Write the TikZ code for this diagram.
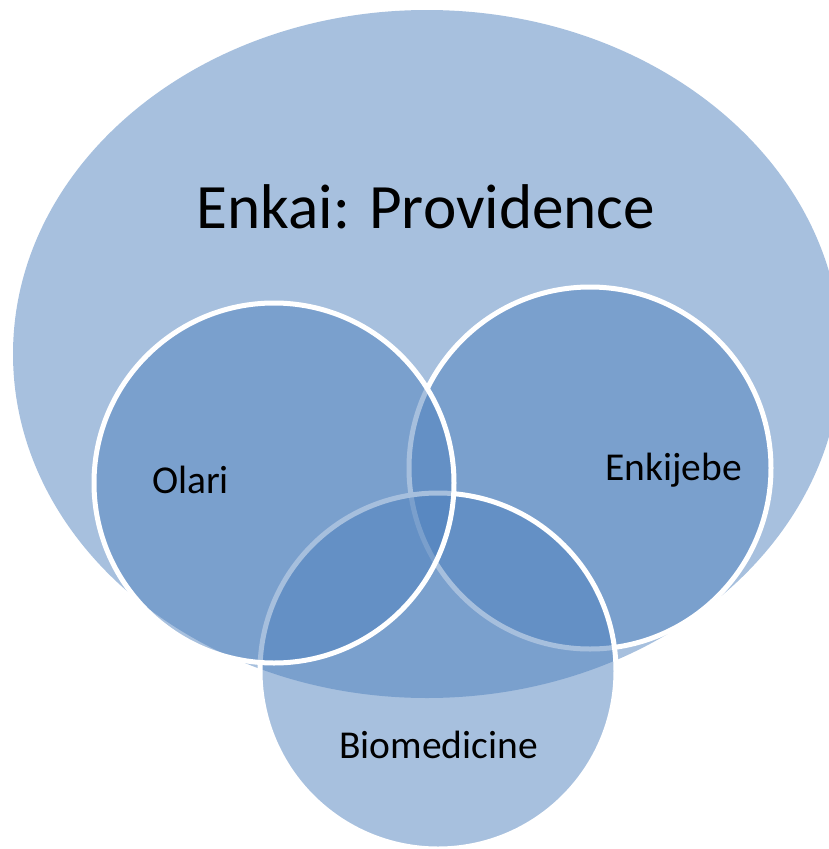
\documentclass[tikz,border=0pt]{standalone}
\usepackage{fontspec}
\setmainfont{Carlito}
\definecolor{vennblue}{HTML}{4F81BD}
\begin{document}
\begin{tikzpicture}[x=1pt, y=-1pt,
    outer/.style={fill=vennblue, fill opacity=0.5},
    set/.style={fill=vennblue, fill opacity=0.5, draw=white, line width=5pt},
    setlabel/.style={anchor=base, inner sep=0pt, font=\fontsize{39.5}{47}\selectfont}]

    \clip (0,0) rectangle (829,849);

    %% Providence
    \fill[outer] (427,354) ellipse (414pt and 344pt);
    \node[anchor=base, inner sep=0pt, font=\fontsize{63.2}{76}\selectfont] (enkai) at (426,228) {Enkai: Providence};

    %% Sets
    \filldraw[set] (590,468) circle (181pt);
    \filldraw[set] (438,671) circle (178pt);
    \filldraw[set] (274,483) circle (180pt);

    %% Labels
    \node[setlabel] (olari) at (190.5,493) {Olari};
    \node[setlabel] (enkijebe) at (673.5,480) {Enkijebe};
    \node[setlabel] (biomed) at (438.5,758) {Biomedicine};

\end{tikzpicture}
\end{document}
